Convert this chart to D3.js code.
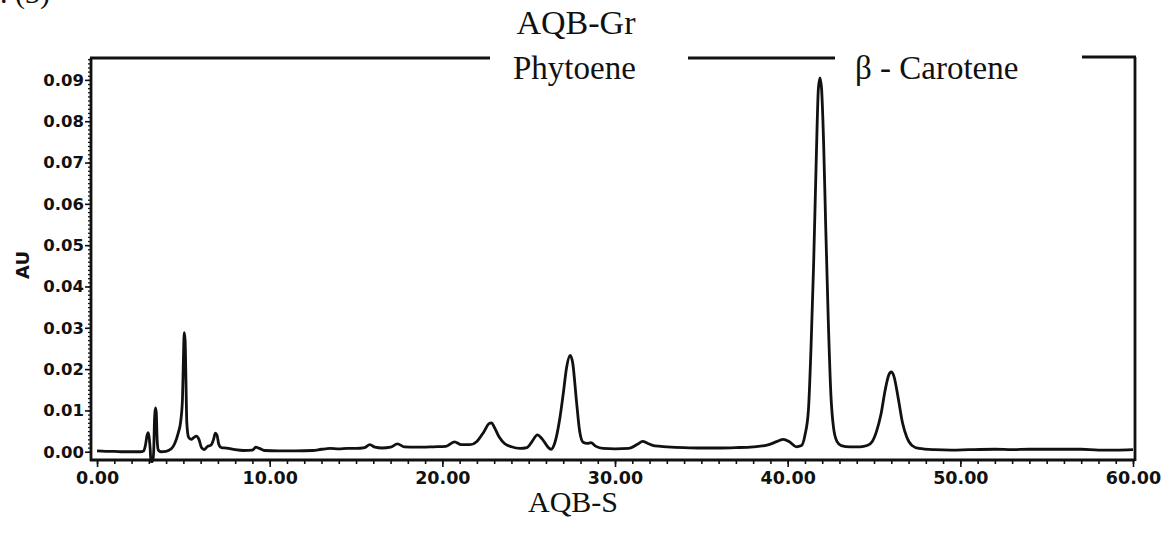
<!DOCTYPE html>
<html>
<head>
<meta charset="utf-8">
<script src="https://cdn.jsdelivr.net/npm/d3@7"></script>
<style>
  html, body { margin: 0; padding: 0; background: #fff; }
  svg { display: block; }
</style>
</head>
<body>
<svg id="chart" width="1173" height="535"></svg>
<script>
// Retention time (min) and absorbance (AU)
const times = [
  0.0, 0.5, 1.0, 1.5, 2.0, 2.5, 2.7, 2.8, 2.9, 2.97, 3.03, 3.08, 3.12, 3.22, 3.28, 3.33, 3.38, 3.43, 3.48, 3.55,
  3.7, 4.0, 4.3, 4.5, 4.7, 4.85, 4.95, 5.0, 5.05, 5.10, 5.15, 5.2, 5.3, 5.45, 5.6, 5.75, 5.9, 6.05, 6.2, 6.4,
  6.6, 6.75, 6.85, 6.95, 7.05, 7.2, 7.5, 8.0, 8.5, 9.0, 9.2, 9.4, 9.7, 10.5, 11.5, 12.5, 13.0, 13.5, 14.0, 14.5,
  15.0, 15.5, 15.8, 16.1, 16.5, 17.0, 17.4, 17.8, 18.5, 19.5, 20.2, 20.7, 21.1, 21.6, 22.0, 22.4, 22.7, 22.85, 23.0, 23.3,
  23.6, 24.0, 24.5, 24.9, 25.2, 25.5, 25.8, 26.1, 26.3, 26.5, 26.8, 27.0, 27.2, 27.4, 27.55, 27.75, 27.95, 28.15, 28.4, 28.6,
  28.9, 29.3, 30.0, 30.8, 31.3, 31.6, 31.9, 32.3, 33.0, 34.0, 35.0, 36.0, 37.0, 38.0, 38.8, 39.4, 39.75, 40.1, 40.5, 40.8,
  41.0, 41.2, 41.35, 41.5, 41.65, 41.78, 41.87, 41.96, 42.08, 42.2, 42.35, 42.5, 42.65, 42.85, 43.1, 43.6, 44.2, 44.6, 44.9, 45.15,
  45.4, 45.65, 45.85, 46.0, 46.15, 46.4, 46.65, 46.9, 47.2, 47.6, 48.5, 49.5, 50.5, 52.0, 53.0, 54.0, 55.5, 57.0, 58.0, 59.0,
  60.0
];
const au = [
  0.0002, 0.0001, 0.0001, 0.0000, 0.0000, 0.0000, 0.0002, 0.0015, 0.0040, 0.0046, 0.0030, 0.0005, -0.0024, -0.0024, 0.0000, 0.0080, 0.0106, 0.0095, 0.0030, 0.0004,
  0.0000, 0.0001, 0.0007, 0.0020, 0.0045, 0.0075, 0.0130, 0.0220, 0.0288, 0.0270, 0.0170, 0.0070, 0.0035, 0.0030, 0.0034, 0.0038, 0.0030, 0.0010, 0.0005, 0.0013,
  0.0016, 0.0030, 0.0045, 0.0040, 0.0018, 0.0010, 0.0009, 0.0005, 0.0003, 0.0004, 0.0011, 0.0008, 0.0003, 0.0002, 0.0002, 0.0003, 0.0006, 0.0008, 0.0007, 0.0008,
  0.0008, 0.0010, 0.0017, 0.0011, 0.0009, 0.0011, 0.0019, 0.0012, 0.0011, 0.0012, 0.0013, 0.0024, 0.0017, 0.0017, 0.0025, 0.0048, 0.0068, 0.0070, 0.0060, 0.0035,
  0.0020, 0.0012, 0.0008, 0.0010, 0.0025, 0.0041, 0.0030, 0.0012, 0.0006, 0.0020, 0.0080, 0.0140, 0.0205, 0.0233, 0.0215, 0.0130, 0.0050, 0.0023, 0.0020, 0.0022,
  0.0013, 0.0008, 0.0007, 0.0008, 0.0018, 0.0025, 0.0020, 0.0014, 0.0012, 0.0010, 0.0009, 0.0009, 0.0010, 0.0012, 0.0016, 0.0025, 0.0030, 0.0024, 0.0012, 0.0015,
  0.0040, 0.0100, 0.0250, 0.0450, 0.0700, 0.0880, 0.0905, 0.0880, 0.0750, 0.0550, 0.0320, 0.0140, 0.0060, 0.0025, 0.0015, 0.0012, 0.0012, 0.0015, 0.0025, 0.0050,
  0.0090, 0.0150, 0.0185, 0.0193, 0.0183, 0.0130, 0.0070, 0.0035, 0.0015, 0.0008, 0.0005, 0.0004, 0.0005, 0.0006, 0.0005, 0.0006, 0.0006, 0.0006, 0.0004, 0.0004,
  0.0005
];
const xTickValues = [0, 10, 20, 30, 40, 50, 60];
const yTickValues = [0, 0.01, 0.02, 0.03, 0.04, 0.05, 0.06, 0.07, 0.08, 0.09];
const yLabel = "AU";
const topTitle = "AQB-Gr";
const bottomTitle = "AQB-S";
const peakLabels = ["Phytoene", "β - Carotene"];
const figLabel = "Fig. (3)";

const svg = d3.select("#chart");
const ink = "#111";

const x = d3.scaleLinear().domain([-0.35, 60]).range([91, 1133]);
const y = d3.scaleLinear().domain([-0.002, 0.0953]).range([460, 58]);

const sans = "'DejaVu Sans', Verdana, sans-serif";
const serif = "'Liberation Serif', 'Times New Roman', serif";

// x axis
const xAxis = d3.axisBottom(x).tickValues(xTickValues).tickFormat(d3.format(".2f")).tickSize(7).tickSizeOuter(0);
const gx = svg.append("g").attr("transform", "translate(0,460)").call(xAxis);
gx.select(".domain").remove();
gx.selectAll("text").attr("font-family", sans).attr("font-weight", "bold").attr("font-size", 17.5).attr("fill", ink).attr("dy", "0.78em");
gx.selectAll("line").attr("stroke", ink).attr("stroke-width", 1.6);
const xMinor = d3.axisBottom(x).tickValues(d3.range(0, 61, 1)).tickFormat("").tickSize(4).tickSizeOuter(0);
const gxm = svg.append("g").attr("transform", "translate(0,460)").call(xMinor);
gxm.select(".domain").remove();
gxm.selectAll("line").attr("stroke", ink).attr("stroke-width", 1.6);

// y axis
const yAxis = d3.axisLeft(y).tickValues(yTickValues).tickFormat(d3.format(".2f")).tickSize(6).tickSizeOuter(0);
const gy = svg.append("g").attr("transform", "translate(91,0)").call(yAxis);
gy.select(".domain").remove();
gy.selectAll("text").attr("font-family", sans).attr("font-weight", "bold").attr("font-size", 16.5).attr("fill", ink).attr("x", -7);
gy.selectAll("line").attr("stroke", ink).attr("stroke-width", 1.6);
const yMinor = d3.axisLeft(y).tickValues(d3.range(0, 96, 1).map(d => d / 1000)).tickFormat("").tickSize(3).tickSizeOuter(0);
const gym = svg.append("g").attr("transform", "translate(91,0)").call(yMinor);
gym.select(".domain").remove();
gym.selectAll("line").attr("stroke", ink).attr("stroke-width", 1.3);

// frame
const frame = svg.append("g").attr("stroke", ink).attr("stroke-width", 2.8).attr("fill", "none");
frame.append("line").attr("x1", 91).attr("x2", 91).attr("y1", 58).attr("y2", 461);
frame.append("line").attr("x1", 90).attr("x2", 1135).attr("y1", 460).attr("y2", 460);
frame.append("line").attr("x1", 1135).attr("x2", 1135).attr("y1", 57).attr("y2", 461);
frame.append("line").attr("x1", 90).attr("x2", 490).attr("y1", 58).attr("y2", 58);
frame.append("line").attr("x1", 688).attr("x2", 835).attr("y1", 58).attr("y2", 58);
frame.append("line").attr("x1", 1082).attr("x2", 1136).attr("y1", 57).attr("y2", 57);

// signal
const pts = times.map((t, i) => [t, au[i]]);
const line = d3.line().x(d => x(d[0])).y(d => y(d[1])).curve(d3.curveMonotoneX);
svg.append("path").datum(pts).attr("d", line)
  .attr("fill", "none").attr("stroke", ink).attr("stroke-width", 2.8).attr("stroke-linejoin", "round");

// texts
svg.append("text").text(yLabel).attr("transform", "translate(29,265) rotate(-90)")
  .attr("text-anchor", "middle").attr("font-family", sans).attr("font-weight", "bold").attr("font-size", 18).attr("fill", ink);
svg.append("text").text(topTitle).attr("x", 576).attr("y", 34).attr("text-anchor", "middle")
  .attr("font-family", serif).attr("font-size", 34).attr("fill", ink);
svg.append("text").text(peakLabels[0]).attr("x", 513).attr("y", 79)
  .attr("font-family", serif).attr("font-size", 33).attr("fill", ink);
svg.append("text").text(peakLabels[1]).attr("x", 855).attr("y", 79)
  .attr("font-family", serif).attr("font-size", 33).attr("fill", ink);
svg.append("text").text(bottomTitle).attr("x", 573).attr("y", 512).attr("text-anchor", "middle")
  .attr("font-family", serif).attr("font-size", 30).attr("fill", ink);
svg.append("text").text(figLabel).attr("x", -40).attr("y", 3)
  .attr("font-family", serif).attr("font-size", 30).attr("fill", ink);
</script>
</body>
</html>
